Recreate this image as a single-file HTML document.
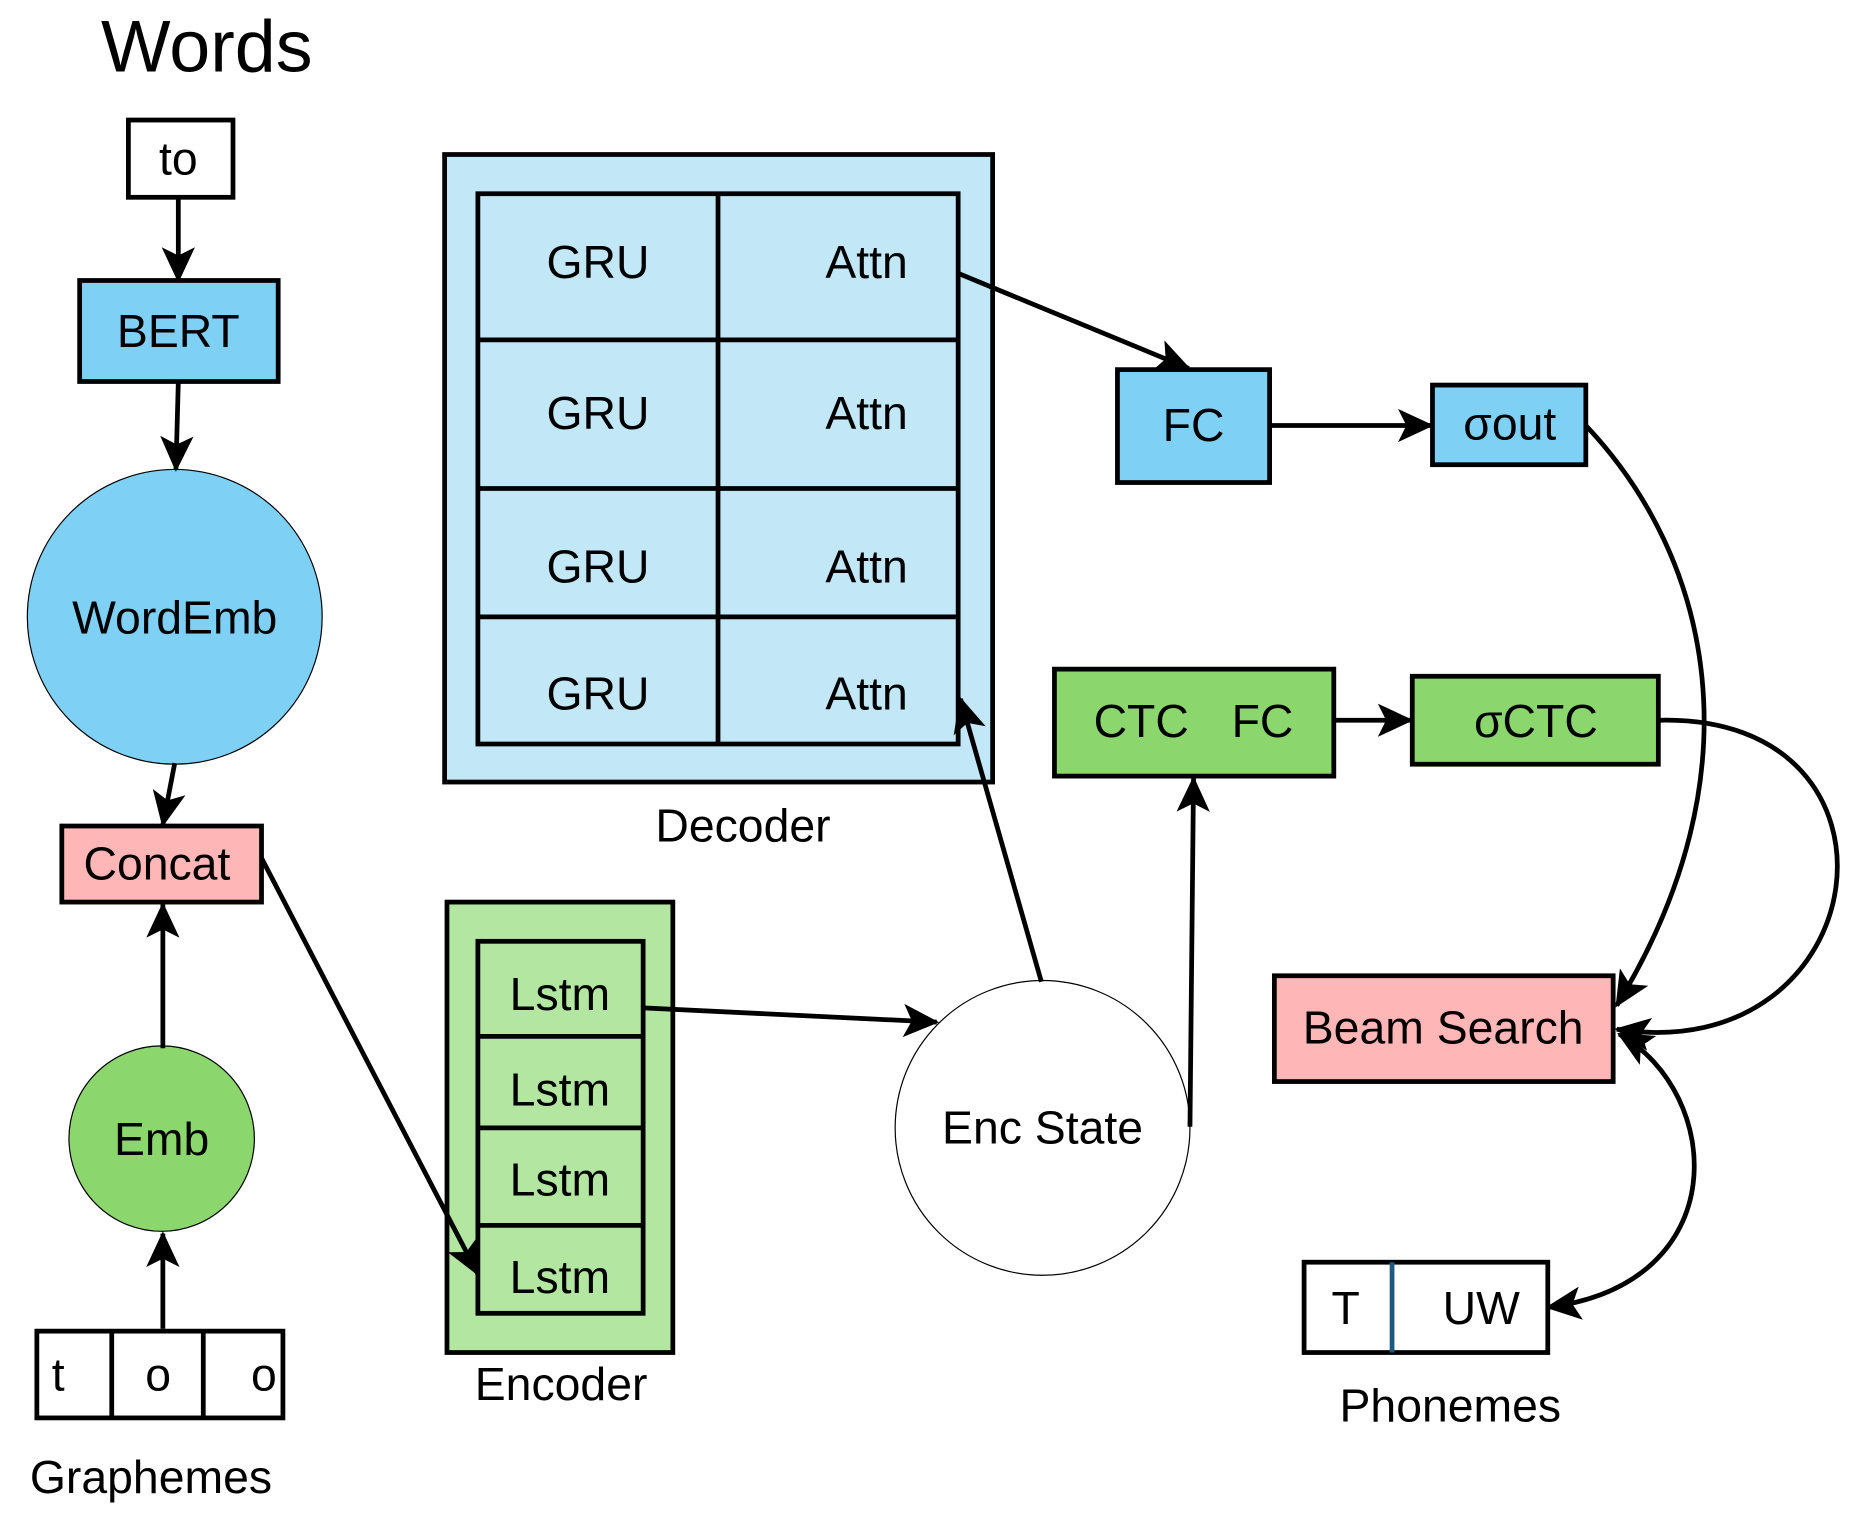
<!DOCTYPE html>
<html><head><meta charset="utf-8"><style>html,body{margin:0;padding:0;background:#fff}svg{display:block}</style></head>
<body>
<svg width="1864" height="1532" viewBox="0 0 1568 1289" preserveAspectRatio="none" xmlns="http://www.w3.org/2000/svg" font-family="Liberation Sans, sans-serif" font-size="39">
<defs>
<marker id="a" viewBox="0 0 30 30" refX="28" refY="15" markerWidth="30" markerHeight="30" markerUnits="userSpaceOnUse" orient="auto">
<path d="M0,1 L30,15 L0,29 L7,15 Z" fill="#000"/>
</marker>
<marker id="s" viewBox="0 0 30 30" refX="2" refY="15" markerWidth="30" markerHeight="30" markerUnits="userSpaceOnUse" orient="auto">
<path d="M30,1 L0,15 L30,29 L23,15 Z" fill="#000"/>
</marker>
</defs>
<style>
.l{stroke:#000;stroke-width:4;fill:none}
text{fill:#000}
</style>
<text x="85" y="60" font-size="62">Words</text>
<rect x="108" y="101" width="88" height="65" fill="#fff" class="l"/>
<text x="150" y="147" text-anchor="middle">to</text>
<rect x="67" y="236" width="167" height="85" fill="#7fd0f5" stroke="#000" stroke-width="4"/>
<text x="150" y="292" text-anchor="middle">BERT</text>
<circle cx="147" cy="519" r="124" fill="#7fd0f5" stroke="#000" stroke-width="1"/>
<text x="147" y="533" text-anchor="middle">WordEmb</text>
<rect x="52" y="695" width="168" height="64" fill="#ffb6b6" stroke="#000" stroke-width="4"/>
<text x="132" y="740" text-anchor="middle">Concat</text>
<circle cx="136" cy="958" r="78" fill="#8cd66e" stroke="#000" stroke-width="1"/>
<text x="136" y="972" text-anchor="middle">Emb</text>
<rect x="31" y="1120" width="207" height="73" fill="#fff" class="l"/>
<line x1="94" y1="1120" x2="94" y2="1193" class="l"/><line x1="171" y1="1120" x2="171" y2="1193" class="l"/>
<text x="49" y="1170" text-anchor="middle">t</text><text x="133" y="1170" text-anchor="middle">o</text><text x="222" y="1170" text-anchor="middle">o</text>
<text x="127" y="1256" text-anchor="middle">Graphemes</text>

<rect x="374" y="130" width="461" height="528" fill="#c2e8f8" stroke="#000" stroke-width="4"/>
<rect x="402" y="163" width="404" height="463" fill="#c2e8f8" stroke="#000" stroke-width="4"/>
<line x1="604" y1="163" x2="604" y2="626" class="l"/>
<line x1="402" y1="286" x2="806" y2="286" class="l"/><line x1="402" y1="411" x2="806" y2="411" class="l"/><line x1="402" y1="519" x2="806" y2="519" class="l"/>
<g text-anchor="middle">
<text x="503" y="234">GRU</text><text x="729" y="234">Attn</text>
<text x="503" y="361">GRU</text><text x="729" y="361">Attn</text>
<text x="503" y="490">GRU</text><text x="729" y="490">Attn</text>
<text x="503" y="597">GRU</text><text x="729" y="597">Attn</text>
<text x="625" y="708">Decoder</text>
</g>
<rect x="376" y="759" width="190" height="379" fill="#b3e6a0" stroke="#000" stroke-width="4"/>
<rect x="402" y="792" width="139" height="313" fill="#b3e6a0" stroke="#000" stroke-width="4"/>
<line x1="402" y1="872" x2="541" y2="872" class="l"/><line x1="402" y1="949" x2="541" y2="949" class="l"/><line x1="402" y1="1031" x2="541" y2="1031" class="l"/>
<g text-anchor="middle">
<text x="471" y="850">Lstm</text><text x="471" y="930">Lstm</text><text x="471" y="1006">Lstm</text><text x="471" y="1088">Lstm</text>
<text x="472" y="1178">Encoder</text>
</g>
<circle cx="877" cy="949" r="124" fill="#fff" stroke="#000" stroke-width="1"/>
<text x="877" y="962" text-anchor="middle">Enc State</text>

<rect x="940" y="311" width="128" height="95" fill="#7fd0f5" stroke="#000" stroke-width="4"/>
<text x="1004" y="371" text-anchor="middle">FC</text>
<rect x="1205" y="324" width="129" height="67" fill="#7fd0f5" stroke="#000" stroke-width="4"/>
<text x="1270" y="370" text-anchor="middle">σout</text>
<rect x="887" y="563" width="235" height="90" fill="#8cd66e" stroke="#000" stroke-width="4"/>
<text x="960" y="620" text-anchor="middle">CTC</text><text x="1062" y="620" text-anchor="middle">FC</text>
<rect x="1188" y="569" width="207" height="74" fill="#8cd66e" stroke="#000" stroke-width="4"/>
<text x="1292" y="620" text-anchor="middle">σCTC</text>
<rect x="1072" y="821" width="285" height="89" fill="#ffb6b6" stroke="#000" stroke-width="4"/>
<text x="1214" y="878" text-anchor="middle">Beam Search</text>
<rect x="1097" y="1062" width="205" height="76" fill="#fff" class="l"/>
<line x1="1171" y1="1062" x2="1171" y2="1138" stroke="#1a5a80" stroke-width="4"/>
<text x="1132" y="1114" text-anchor="middle">T</text><text x="1246" y="1114" text-anchor="middle">UW</text>
<text x="1220" y="1196" text-anchor="middle">Phonemes</text>

<g class="l">
<line x1="150" y1="166" x2="150" y2="236" marker-end="url(#a)"/>
<line x1="150" y1="321" x2="148" y2="395" marker-end="url(#a)"/>
<line x1="147" y1="642" x2="137" y2="694" marker-end="url(#a)"/>
<line x1="137" y1="882" x2="137" y2="761" marker-end="url(#a)"/>
<line x1="137" y1="1118" x2="137" y2="1038" marker-end="url(#a)"/>
<line x1="220" y1="722" x2="402" y2="1072" marker-end="url(#a)"/>
<line x1="541" y1="848" x2="788" y2="860" marker-end="url(#a)"/>
<line x1="876" y1="826" x2="808" y2="588" marker-end="url(#a)"/>
<line x1="1001" y1="948" x2="1004" y2="655" marker-end="url(#a)"/>
<line x1="806" y1="230" x2="1000" y2="310" marker-end="url(#a)"/>
<line x1="1068" y1="358" x2="1204" y2="358" marker-end="url(#a)"/>
<line x1="1122" y1="606" x2="1187" y2="606" marker-end="url(#a)"/>
<path d="M1334,358 C1440,470 1480,650 1360,846" marker-end="url(#a)"/>
<path d="M1395,606 C1620,600 1580,900 1360,866" marker-end="url(#a)"/>
<path d="M1362,870 C1450,920 1460,1080 1302,1100" marker-start="url(#s)" marker-end="url(#a)"/>
</g>
</svg>
</body></html>
